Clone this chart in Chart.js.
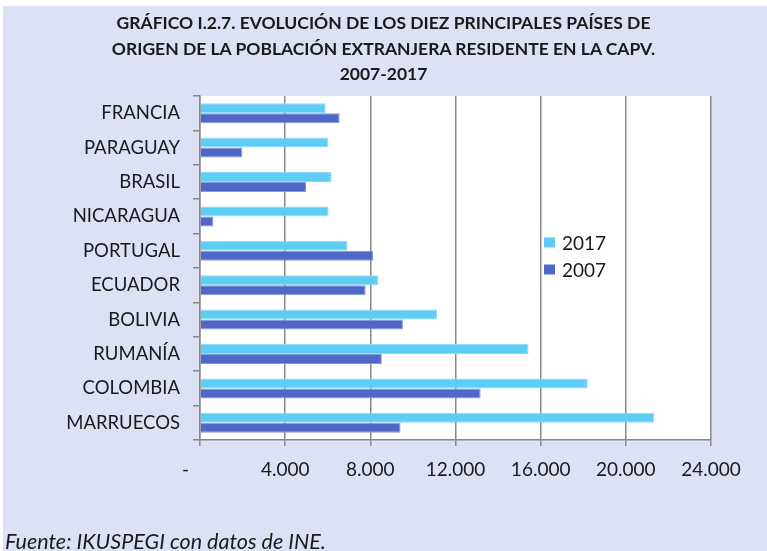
<!DOCTYPE html>
<html>
<head>
<meta charset="utf-8">
<script src="https://cdn.jsdelivr.net/npm/chart.js@4/dist/chart.umd.min.js"></script>
<style>
  html, body { margin: 0; padding: 0; background: #fff; }
  #wrap { position: relative; width: 767px; height: 551px; overflow: hidden; }
  #bg { position: absolute; left: 3px; top: 6px; right: 0; bottom: 0; background: #dce1f3; }
  #title {
    position: absolute; left: 0; top: 10px; width: 767px; text-align: center;
    font-family: Lato, sans-serif; font-weight: bold; font-size: 17.5px; line-height: 25.5px; color: #1a1a1a;
  }
  #source {
    position: absolute; left: 5px; top: 528px;
    font-family: Lato, sans-serif; font-style: italic; font-size: 21.5px; color: #1a1a1a;
  }
  #chartBox { position: absolute; left: 0; top: 0; width: 767px; height: 551px; }
</style>
</head>
<body>
<div id="wrap">
  <div id="bg"></div>
  <div id="chartBox"><canvas id="chart"></canvas></div>
  <div id="title">GRÁFICO I.2.7. EVOLUCIÓN DE LOS DIEZ PRINCIPALES PAÍSES DE<br>ORIGEN DE LA POBLACIÓN EXTRANJERA RESIDENTE EN LA CAPV.<br>2007-2017</div>
  <div id="source">Fuente: IKUSPEGI con datos de INE.</div>
</div>
<script>
const countries = ["FRANCIA", "PARAGUAY", "BRASIL", "NICARAGUA", "PORTUGAL",
  "ECUADOR", "BOLIVIA", "RUMANÍA", "COLOMBIA", "MARRUECOS"];
const values2017 = [5900, 6010, 6180, 6040, 6930, 8370, 11130, 15430, 18210, 21330];
const values2007 = [6560, 1990, 4980, 630, 8140, 7780, 9530, 8540, 13180, 9420];
const axisTicks = [0, 4000, 8000, 12000, 16000, 20000, 24000];

const gridColor = "#888888";
const textColor = "#1a1a1a";

function formatThousands(v) {
  if (v === 0) return "-      ";
  return String(v).replace(/\B(?=(\d{3})+(?!\d))/g, ".");
}

// white plot area behind the bars
const plotBackground = {
  id: "plotBackground",
  beforeDraw(chart) {
    const { ctx, chartArea: a } = chart;
    ctx.save();
    ctx.fillStyle = "#ffffff";
    ctx.fillRect(a.left, a.top, a.right - a.left, a.bottom - a.top);
    ctx.restore();
  },
};

// legend drawn inside the plot, like the original
const insideLegend = {
  id: "insideLegend",
  afterDraw(chart) {
    const ctx = chart.ctx;
    const x = 544, y0 = 242.5, gap = 27;
    ctx.save();
    ctx.font = "19px Lato, sans-serif";
    ctx.textBaseline = "middle";
    chart.data.datasets.forEach((ds, i) => {
      const y = y0 + i * gap;
      ctx.fillStyle = ds.backgroundColor;
      ctx.fillRect(x, y - 5, 11, 10);
      ctx.fillStyle = textColor;
      ctx.fillText(ds.label, x + 18, y + 1);
    });
    ctx.restore();
  },
};

new Chart(document.getElementById("chart"), {
  type: "bar",
  data: {
    labels: countries,
    datasets: [
      {
        label: "2017",
        data: values2017,
        backgroundColor: "#5dcdf4",
        borderColor: "#8edcf7",
        borderWidth: 1,
        borderSkipped: "start",
      },
      {
        label: "2007",
        data: values2007,
        backgroundColor: "#4f68c8",
        borderColor: "#8796d8",
        borderWidth: 1,
        borderSkipped: "start",
      },
    ],
  },
  options: {
    indexAxis: "y",
    responsive: true,
    maintainAspectRatio: false,
    animation: false,
    categoryPercentage: 0.58,
    barPercentage: 1,
    layout: { padding: { top: 96, right: 56, left: 0, bottom: 0 } },
    plugins: {
      legend: { display: false },
      tooltip: { enabled: false },
    },
    scales: {
      x: {
        min: 0,
        max: 24000,
        afterBuildTicks: (scale) => {
          scale.ticks = axisTicks.map((v) => ({ value: v }));
        },
        afterFit: (scale) => { scale.height = 111; },
        grid: { color: gridColor, lineWidth: 1.5, tickLength: 6 },
        border: { color: gridColor, width: 1.5 },
        ticks: {
          color: textColor,
          font: { family: "Lato, sans-serif", size: 19 },
          padding: 12,
          maxRotation: 0,
          callback: (v) => formatThousands(v),
        },
      },
      y: {
        afterFit: (scale) => { scale.width = 200; },
        grid: { display: true, drawOnChartArea: false, offset: true, color: gridColor, lineWidth: 1.5, tickLength: 7 },
        border: { color: gridColor, width: 1.5 },
        ticks: {
          color: textColor,
          font: { family: "Lato, sans-serif", size: 18.5 },
          padding: 13,
        },
      },
    },
  },
  plugins: [plotBackground, insideLegend],
});
</script>
</body>
</html>
